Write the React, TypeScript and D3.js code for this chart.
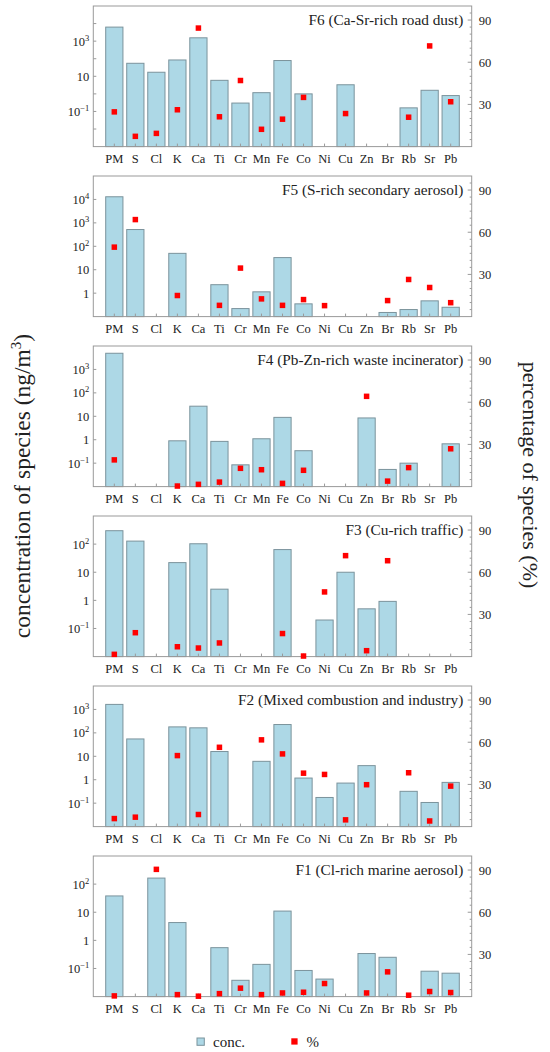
import * as d3 from 'd3'

// species along the x axis
const species = ['PM', 'S', 'Cl', 'K', 'Ca', 'Ti', 'Cr', 'Mn', 'Fe', 'Co', 'Ni', 'Cu', 'Zn', 'Br', 'Rb', 'Sr', 'Pb']

// factor titles, top to bottom
const titles = [
  'F6 (Ca-Sr-rich road dust)',
  'F5 (S-rich secondary aerosol)',
  'F4 (Pb-Zn-rich waste incinerator)',
  'F3 (Cu-rich traffic)',
  'F2 (Mixed combustion and industry)',
  'F1 (Cl-rich marine aerosol)',
]

// concentration (ng/m3), null = not in profile
const f6Conc = [6300, 55, 17, 85, 1550, 5.9, 0.3, 1.17, 79, 1.0, null, 3.3, null, null, 0.16, 1.6, 0.8]
const f5Conc = [13000, 520, null, 50, null, 2.3, 0.22, 1.14, 33, 0.35, null, null, null, 0.15, 0.2, 0.47, 0.25]
const f4Conc = [4900, null, null, 0.9, 27, 0.85, 0.085, 1.1, 9, 0.34, null, null, 8.5, 0.054, 0.1, null, 0.67]
const f3Conc = [300, 128, null, 22, 103, 2.5, null, null, 64, null, 0.2, 10, 0.5, 0.92, null, null, null]
const f2Conc = [1640, 55, null, 180, 164, 16, null, 6.1, 227, 1.18, 0.175, 0.72, 4, null, 0.32, 0.107, 0.77]
const f1Conc = [38, null, 164, 4.3, null, 0.55, 0.038, 0.14, 11, 0.085, 0.042, null, 0.34, 0.25, null, 0.08, 0.068]

// percentage of species (%)
const f6Pct = [24.7, 7.3, 9.4, 26.2, 84.3, 21.2, 47, 12.3, 19.5, 35, null, 23.5, null, null, 20.9, 71.6, 31.9]
const f5Pct = [49.4, 69, null, 15, null, 8, 34.5, 12.6, 8, 12.1, 7.8, null, null, 11.4, 26.4, 20.7, 9.9]
const f4Pct = [19, null, null, 0.4, 1.6, 3.2, 13, 12, 2.3, 11.6, null, null, 64.2, 3.9, 13.5, null, 26.9]
const f3Pct = [1.6, 17, null, 7, 6.1, 9.7, null, null, 16.4, 0.4, 46, 71.8, 4.2, 68.2, null, null, null]
const f2Pct = [5.7, 6.7, null, 50.5, 8.6, 56.4, null, 61.7, 51.7, 38, 37.1, 4.8, 29.8, null, 38.3, 4, 28.8]
const f1Pct = [0.5, null, 90.5, 1.4, 0.3, 2.1, 6, 1.4, 2.6, 3.1, 9.3, null, 2.6, 17.6, 1, 3.6, 2.9]

// log axis range (exponents) and labelled exponents per panel
const logRanges = [[-3, 5], [-1, 5], [-2, 4], [-2, 3], [-2, 4], [-2, 3]]
const logLabels = [[-1, 1, 3], [0, 1, 2, 3, 4], [-1, 0, 1, 2, 3], [-1, 0, 1, 2], [-1, 0, 1, 2, 3], [-1, 0, 1, 2]]
const pctTicks = [30, 60, 90]

const concs = [f6Conc, f5Conc, f4Conc, f3Conc, f2Conc, f1Conc]
const pcts = [f6Pct, f5Pct, f4Pct, f3Pct, f2Pct, f1Pct]

const W = 550
const H = 1052
const left = 93.3
const right = 471.7
const panelH = 140.6
const panelStep = 170
const firstTop = 6
const font = '"Liberation Serif", "Times New Roman", serif'
const frame = '#9a9a9a'
const ink = '#222'

function expLabel(e: number) {
  if (e === 0) return <tspan>1</tspan>
  if (e === 1) return <tspan>10</tspan>
  return (
    <>
      <tspan>10</tspan>
      <tspan dy={-5} fontSize={8.5}>{e < 0 ? '\u2212' + -e : e}</tspan>
    </>
  )
}

function Panel({ idx }: { idx: number }) {
  const top = firstTop + idx * panelStep
  const bottom = top + panelH
  const [lo, hi] = logRanges[idx]
  const x = d3.scalePoint<string>().domain(species).range([left, right]).padding(1)
  const bw = x.step() * 0.82
  const y = d3.scaleLog().domain([10 ** lo, 10 ** hi]).range([bottom, top])
  const yr = d3.scaleLinear().domain([0, 100]).range([bottom, top])
  const conc = concs[idx]
  const pct = pcts[idx]
  const decades = d3.range(lo + 1, hi)
  const minor = d3.range(5, 100, 5).filter((v) => !pctTicks.includes(v))

  return (
    <g>
      {conc.map((v, i) =>
        v == null ? null : (
          <rect
            key={'b' + i}
            x={x(species[i])! - bw / 2}
            y={y(v)}
            width={bw}
            height={bottom - y(v)}
            fill="#add8e6"
            stroke="#7b939c"
            strokeWidth={1}
          />
        ),
      )}
      <rect x={left} y={top} width={right - left} height={panelH} fill="none" stroke={frame} strokeWidth={1} />
      {/* x ticks */}
      {species.map((s) => (
        <g key={'x' + s}>
          <line x1={x(s)} x2={x(s)} y1={bottom} y2={bottom - 3} stroke={frame} />
          <text x={x(s)} y={bottom + 16.5} textAnchor="middle" fontSize={12.5} fill={ink} fontFamily={font}>
            {s}
          </text>
        </g>
      ))}
      {/* left log axis */}
      {decades.map((e) => (
        <line key={'yt' + e} x1={left} x2={left + 3} y1={y(10 ** e)} y2={y(10 ** e)} stroke={frame} />
      ))}
      {logLabels[idx].map((e) => (
        <text key={'yl' + e} x={left - 4} y={y(10 ** e) + 4.5} textAnchor="end" fontSize={12.5} fill={ink} fontFamily={font}>
          {expLabel(e)}
        </text>
      ))}
      {/* right linear axis */}
      {minor.map((v) => (
        <line key={'rm' + v} x1={right} x2={right - 2} y1={yr(v)} y2={yr(v)} stroke={frame} />
      ))}
      {pctTicks.map((v) => (
        <g key={'rt' + v}>
          <line x1={right} x2={right - 4} y1={yr(v)} y2={yr(v)} stroke={frame} />
          <text x={right + 7} y={yr(v) + 4.5} fontSize={12.5} fill={ink} fontFamily={font}>
            {v}
          </text>
        </g>
      ))}
      {pct.map((v, i) =>
        v == null ? null : (
          <rect key={'p' + i} x={x(species[i])! - 2.75} y={yr(v) - 2.75} width={5.5} height={5.5} fill="#ff0000" />
        ),
      )}
      <text x={463.3} y={top + 19} textAnchor="end" fontSize={15.3} fill={ink} fontFamily={font}>
        {titles[idx]}
      </text>
    </g>
  )
}

export default function App() {
  return (
    <svg
      width={W}
      height={H}
      style={{ position: 'absolute', left: 0, top: 0, background: '#fff' }}
      fontFamily={font}
    >
      <rect width={W} height={H} fill="#fff" />
      {titles.map((_, i) => (
        <Panel key={i} idx={i} />
      ))}
      <text transform="translate(30,486) rotate(-90)" textAnchor="middle" fontSize={23.5} fill={ink}>
        concentration of species (ng/m<tspan dy={-9} fontSize={15}>3</tspan>
        <tspan dy={9}>)</tspan>
      </text>
      <text transform="translate(523,475) rotate(90)" textAnchor="middle" fontSize={22} fill={ink}>
        percentage of species (%)
      </text>
      {/* legend */}
      <rect x={197} y={1038} width={7.3} height={7.3} fill="#add8e6" stroke="#7b939c" />
      <text x={213} y={1046.5} fontSize={15} fill={ink}>
        conc.
      </text>
      <rect x={291.3} y={1038.3} width={6.3} height={6.3} fill="#ff0000" />
      <text x={306.5} y={1046.5} fontSize={15} fill={ink}>
        %
      </text>
    </svg>
  )
}
